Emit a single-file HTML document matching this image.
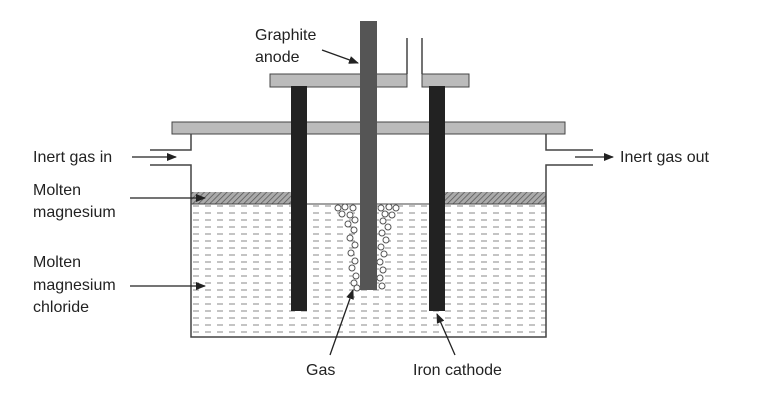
<!DOCTYPE html><html><head><style>body{margin:0;background:#fff}svg{display:block}text{font-family:"Liberation Sans",sans-serif;font-size:16px;fill:#222}</style></head><body>
<svg width="759" height="400" viewBox="0 0 759 400">
<defs>
<pattern id="h" width="4" height="4" patternUnits="userSpaceOnUse" patternTransform="rotate(45)"><rect width="4" height="4" fill="#aaa"/><line x1="0" y1="0" x2="0" y2="4" stroke="#555" stroke-width="1.5"/></pattern>
<pattern id="d" width="12" height="7" patternUnits="userSpaceOnUse"><rect width="12" height="7" fill="#fff"/><line x1="1" y1="3" x2="7" y2="3" stroke="#888" stroke-width="1"/></pattern>
<marker id="a" markerWidth="10" markerHeight="8" refX="9" refY="4" orient="auto" markerUnits="userSpaceOnUse"><path d="M0,0 L10,4 L0,8 z" fill="#222"/></marker>
</defs>
<rect x="191" y="204" width="355" height="133" fill="url(#d)"/>
<rect x="191" y="192" width="100" height="12" fill="url(#h)"/>
<rect x="445" y="192" width="101" height="12" fill="url(#h)"/>
<line x1="191" y1="204" x2="546" y2="204" stroke="#444"/>
<path d="M191,134 V150 H150 M150,165 H191 V337 H546 V165 H593 M593,150 H546 V134" fill="none" stroke="#444" stroke-width="1.5"/>
<rect x="172" y="122" width="393" height="12" fill="#bbb" stroke="#444"/>
<rect x="270" y="74" width="137" height="13" fill="#bbb" stroke="#444"/>
<rect x="422" y="74" width="47" height="13" fill="#bbb" stroke="#444"/>
<line x1="407" y1="38" x2="407" y2="74" stroke="#444" stroke-width="1.5"/>
<line x1="422" y1="38" x2="422" y2="74" stroke="#444" stroke-width="1.5"/>
<rect x="291" y="86" width="16" height="225" fill="#222"/>
<rect x="429" y="86" width="16" height="225" fill="#222"/>
<g fill="#fff" stroke="#555" stroke-width="1">
<circle cx="338" cy="208" r="3"/><circle cx="345" cy="207" r="3"/><circle cx="353" cy="208" r="3"/><circle cx="342" cy="214" r="3"/><circle cx="350" cy="215" r="3"/><circle cx="355" cy="220" r="3"/><circle cx="348" cy="224" r="3"/><circle cx="354" cy="230" r="3"/><circle cx="350" cy="238" r="3"/><circle cx="355" cy="245" r="3"/><circle cx="351" cy="253" r="3"/><circle cx="355" cy="261" r="3"/><circle cx="352" cy="268" r="3"/><circle cx="356" cy="276" r="3"/><circle cx="354" cy="283" r="3"/><circle cx="357" cy="288" r="3"/>
<circle cx="381" cy="208" r="3"/><circle cx="389" cy="207" r="3"/><circle cx="396" cy="208" r="3"/><circle cx="385" cy="214" r="3"/><circle cx="392" cy="215" r="3"/><circle cx="383" cy="221" r="3"/><circle cx="388" cy="227" r="3"/><circle cx="382" cy="233" r="3"/><circle cx="386" cy="240" r="3"/><circle cx="381" cy="247" r="3"/><circle cx="384" cy="254" r="3"/><circle cx="380" cy="262" r="3"/><circle cx="383" cy="270" r="3"/><circle cx="380" cy="278" r="3"/><circle cx="382" cy="286" r="3"/>
</g>
<rect x="360" y="21" width="17" height="269" fill="#555"/>
<g stroke="#222" stroke-width="1.3" fill="none" marker-end="url(#a)">
<line x1="322" y1="50" x2="358" y2="63"/>
<line x1="132" y1="157" x2="176" y2="157"/>
<line x1="575" y1="157" x2="613" y2="157"/>
<line x1="130" y1="198" x2="205" y2="198"/>
<line x1="130" y1="286" x2="205" y2="286"/>
<line x1="330" y1="355" x2="353" y2="290"/>
<line x1="455" y1="355" x2="437" y2="314"/>
</g>
<text x="255" y="40">Graphite</text><text x="255" y="62">anode</text>
<text x="33" y="162">Inert gas in</text>
<text x="620" y="162">Inert gas out</text>
<text x="33" y="195">Molten</text><text x="33" y="217">magnesium</text>
<text x="33" y="267">Molten</text><text x="33" y="290">magnesium</text><text x="33" y="312">chloride</text>
<text x="306" y="375">Gas</text>
<text x="413" y="375">Iron cathode</text>
</svg></body></html>
